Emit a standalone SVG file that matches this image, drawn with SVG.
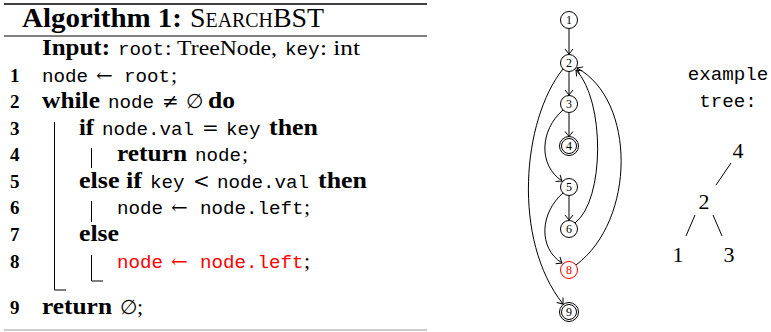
<svg xmlns="http://www.w3.org/2000/svg" width="771" height="332" viewBox="0 0 771 332">
<style>
.rm{font-family:"Liberation Serif","DejaVu Serif",serif;font-size:22px;fill:#000}
.bf{font-family:"Liberation Serif","DejaVu Serif",serif;font-size:22.5px;font-weight:bold;fill:#000}
.tt{font-family:"Liberation Mono","DejaVu Sans Mono",monospace;font-size:19.2px;fill:#000}
.num{font-family:"Liberation Serif","DejaVu Serif",serif;font-size:19px;font-weight:bold;fill:#000}
.sym{font-family:"DejaVu Serif","Liberation Serif",serif;font-size:20px;fill:#000}
.red{fill:#f00}
.node circle{fill:#fff;stroke:#000;stroke-width:1}
.node text{font-family:"Liberation Serif","DejaVu Serif",serif;font-size:12px;text-anchor:middle;fill:#000}
.edge{fill:none;stroke:#000;stroke-width:1;marker-end:url(#arr)}
.tl{font-family:"Liberation Serif","DejaVu Serif",serif;font-size:22px;text-anchor:middle;fill:#000}
.ln{fill:none;stroke:#000;stroke-width:1}
</style>
<defs>
<marker id="arr" viewBox="-6 -5 8 10" markerWidth="8" markerHeight="10" refX="0" refY="0" orient="auto" markerUnits="userSpaceOnUse">
<path d="M-5,-4 Q-1.5,-1.2 0,0 Q-1.5,1.2 -5,4" fill="none" stroke="#000" stroke-width="1"/>
</marker>
</defs>

<g id="algorithm">
<line x1="4" y1="4" x2="427" y2="4" stroke="#000" stroke-width="1.5"/>
<text x="22" y="27" textLength="160" lengthAdjust="spacingAndGlyphs" style="font-family:'Liberation Serif',serif;font-size:28px;font-weight:bold">Algorithm 1:</text>
<text x="190" y="27" textLength="134" lengthAdjust="spacingAndGlyphs" style="font-family:'Liberation Serif',serif;font-size:28px;font-variant:small-caps">Search<tspan style="font-variant:normal">BST</tspan></text>
<line x1="4" y1="36" x2="427" y2="36" stroke="#000" stroke-width="1"/>

<text class="bf" x="42" y="55" textLength="68" lengthAdjust="spacingAndGlyphs">Input:</text>
<text class="tt" x="118" y="55">root</text><text class="rm" x="165" y="55" textLength="112" lengthAdjust="spacingAndGlyphs">: TreeNode,</text>
<text class="tt" x="285" y="55">key</text><text class="rm" x="320" y="55" textLength="40" lengthAdjust="spacingAndGlyphs">: int</text>

<text class="num" x="10" y="82">1</text>
<text class="tt" x="42" y="82">node</text><text class="sym" x="96" y="82">←</text><text class="tt" x="124" y="82">root</text><text class="rm" x="171" y="82">;</text>

<text class="num" x="10" y="108">2</text>
<text class="bf" x="42" y="108" textLength="58" lengthAdjust="spacingAndGlyphs">while</text><text class="tt" x="108" y="108">node</text><text class="sym" x="162" y="108">≠</text><text class="sym" x="186" y="108">∅</text><text class="bf" x="208" y="108" textLength="27" lengthAdjust="spacingAndGlyphs">do</text>

<text class="num" x="10" y="135">3</text>
<text class="bf" x="79" y="135" textLength="15" lengthAdjust="spacingAndGlyphs">if</text><text class="tt" x="102" y="135">node.val</text><text class="sym" x="202" y="135">=</text><text class="tt" x="226" y="135">key</text><text class="bf" x="269" y="135" textLength="49" lengthAdjust="spacingAndGlyphs">then</text>

<text class="num" x="10" y="161">4</text>
<text class="bf" x="117" y="161" textLength="70" lengthAdjust="spacingAndGlyphs">return</text><text class="tt" x="195" y="161">node</text><text class="rm" x="242" y="161">;</text>

<text class="num" x="10" y="188">5</text>
<text class="bf" x="79" y="188" textLength="63" lengthAdjust="spacingAndGlyphs">else if</text><text class="tt" x="150" y="188">key</text><text class="sym" x="193" y="188">&lt;</text><text class="tt" x="217" y="188">node.val</text><text class="bf" x="318" y="188" textLength="49" lengthAdjust="spacingAndGlyphs">then</text>

<text class="num" x="10" y="214">6</text>
<text class="tt" x="117" y="214">node</text><text class="sym" x="171" y="214">←</text><text class="tt" x="200" y="214">node.left</text><text class="rm" x="304" y="214">;</text>

<text class="num" x="10" y="241">7</text>
<text class="bf" x="79" y="241" textLength="40" lengthAdjust="spacingAndGlyphs">else</text>

<text class="num" x="10" y="268">8</text>
<text class="tt red" x="117" y="268">node</text><text class="sym red" x="171" y="268">←</text><text class="tt red" x="200" y="268">node.left</text><text class="rm" x="304" y="268">;</text>

<text class="num" x="10" y="314">9</text>
<text class="bf" x="42" y="314" textLength="70" lengthAdjust="spacingAndGlyphs">return</text><text class="sym" x="120" y="314">∅</text><text class="rm" x="137" y="314">;</text>

<path class="ln" d="M54.5,122 V290 H66"/>
<path class="ln" d="M91.5,148 V168"/>
<path class="ln" d="M91.5,201 V222"/>
<path class="ln" d="M91.5,255 V281 H103"/>
<line x1="4" y1="330" x2="427" y2="330" stroke="#999" stroke-width="1"/>
</g>

<g id="connectors">
<path class="edge" d="M569,28.5 V54"/>
<path class="edge" d="M569,71.5 V95"/>
<path class="edge" d="M569,112.5 V136.5"/>
<path class="edge" d="M569,195.5 V220"/>
<path class="edge" d="M563,69 C522,120 512,240 563,304"/>
<path class="edge" d="M563,110 C540,130 538,165 562,181"/>
<path class="edge" d="M563,193 C540,213 538,248 562,263"/>
<path class="edge" d="M575,223 C605,200 605,100 576,70"/>
<path class="edge" d="M576,265 C636,220 636,100 577,68"/>
</g>

<g id="n1" class="node"><circle cx="569" cy="20" r="8.5"/><text x="569" y="24">1</text></g>
<g id="n2" class="node"><circle cx="569" cy="63" r="8.5"/><text x="569" y="67">2</text></g>
<g id="n3" class="node"><circle cx="569" cy="104" r="8.5"/><text x="569" y="108">3</text></g>
<g id="n4" class="node"><circle cx="569" cy="146" r="9.5"/><circle cx="569" cy="146" r="7.5"/><text x="569" y="150">4</text></g>
<g id="n5" class="node"><circle cx="569" cy="187" r="8.5"/><text x="569" y="191">5</text></g>
<g id="n6" class="node"><circle cx="569" cy="229" r="8.5"/><text x="569" y="233">6</text></g>
<g id="n8" class="node"><circle cx="569" cy="270" r="8.5" style="stroke:#f00"/><text x="569" y="274" style="fill:#f00">8</text></g>
<g id="n9" class="node"><circle cx="569" cy="312" r="9.5"/><circle cx="569" cy="312" r="7.5"/><text x="569" y="316">9</text></g>

<g id="example-tree">
<text class="tt" x="728" y="80" text-anchor="middle">example</text>
<text class="tt" x="728" y="107" text-anchor="middle">tree:</text>
<text class="tl" x="738" y="158">4</text>
<text class="tl" x="704" y="209">2</text>
<text class="tl" x="678" y="262">1</text>
<text class="tl" x="729" y="262">3</text>
<line x1="731" y1="163" x2="716" y2="185" stroke="#000" stroke-width="1"/>
<line x1="695" y1="215" x2="686" y2="236" stroke="#000" stroke-width="1"/>
<line x1="713" y1="215" x2="722" y2="236" stroke="#000" stroke-width="1"/>
</g>
</svg>
